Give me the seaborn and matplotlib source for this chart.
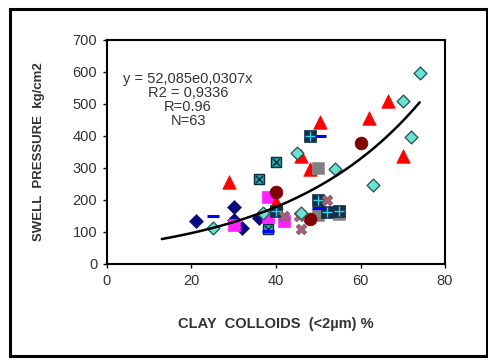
import numpy as np
import pandas as pd
import matplotlib
matplotlib.use("Agg")
import matplotlib.pyplot as plt
from matplotlib.patches import Rectangle
import seaborn as sns

# ---- data ----
navy_x = [21, 30, 30, 32, 36]
navy_y = [135, 178, 138, 112, 144]
mag_x = [30, 38, 38, 42]
mag_y = [123, 210, 146, 135]
red_x = [29, 40, 46, 48, 50.5, 62, 66.5, 70]
red_y = [256, 192, 336, 296, 444, 456, 508, 336]
xsq_x = [36, 40, 38]
xsq_y = [265, 320, 109]
psq_x = [48, 40, 50, 52, 55]
psq_y = [400, 165, 201, 161, 166]
dash_x = [25, 50.5, 50, 38]
dash_y = [149, 400, 174, 104]
circ_x = [40, 60, 48]
circ_y = [225, 378, 140]
mx_x = [42, 46, 52, 45.5]
mx_y = [150, 110, 200, 150]
gray_x = [50, 50, 55]
gray_y = [300, 154, 155]
dia_x = [25, 37, 45, 46, 54, 63, 70, 72, 74]
dia_y = [111, 159, 348, 159, 297, 248, 508, 398, 598]

fit_a = 52.085
fit_b = 0.0307
fit_range = [13, 74]

x_ticks = [0, 20, 40, 60, 80]
y_ticks = [0, 100, 200, 300, 400, 500, 600, 700]

sns.set_theme(style="white")
plt.rcParams['font.family'] = ['Liberation Sans', 'DejaVu Sans']

fig = plt.figure(figsize=(4.88, 3.6), dpi=100)
ax = fig.add_axes([0.219, 0.267, 0.693, 0.622])

def sc(x, y, **kw):
    sns.scatterplot(x=x, y=y, ax=ax, legend=False, **kw)

sc(navy_x, navy_y, marker="D", s=50, color="#0a0a80", edgecolor="#0a0a80", linewidth=0.5, zorder=3)
sc(mag_x, mag_y, marker="s", s=80, color="#ff22ff", edgecolor="#ff22ff", linewidth=0.5, zorder=3)
sc(red_x, red_y, marker="^", s=95, color="#ff0000", edgecolor="#ff0000", linewidth=0.5, zorder=3)
sc(xsq_x, xsq_y, marker="s", s=60, color="#2aa6a6", edgecolor="#0a2a40", linewidth=1.0, zorder=3)
sc(xsq_x, xsq_y, marker="x", s=28, color="#0a2a40", linewidth=1.0, zorder=4)
sc(gray_x, gray_y, marker="s", s=70, color="#808080", edgecolor="#909090", linewidth=0.5, zorder=3)
sc(psq_x, psq_y, marker="s", s=65, color="#12304a", edgecolor="#12304a", linewidth=0.5, zorder=4)
sc(psq_x, psq_y, marker="+", s=50, color="#30d0e0", linewidth=1.0, zorder=5)
sc(circ_x, circ_y, marker="o", s=85, color="#800000", edgecolor="#800000", linewidth=0.5, zorder=3)
sc(mx_x, mx_y, marker="X", s=60, color="#a0607a", edgecolor="#806060", linewidth=0.5, zorder=4)
sc(dash_x, dash_y, marker="_", s=75, color="#0000ff", linewidth=2.2, zorder=4)
sc(dia_x, dia_y, marker="D", s=42, color="#70e0d0", edgecolor="#206060", linewidth=1.0, zorder=4)

xf = np.linspace(fit_range[0], fit_range[1], 200)
sns.lineplot(x=xf, y=fit_a * np.exp(fit_b * xf), ax=ax, color="black", linewidth=1.8, zorder=6)

ax.set_xlim(0, 80)
ax.set_ylim(0, 700)
ax.set_xticks(x_ticks)
ax.set_yticks(y_ticks)
ax.tick_params(axis="both", direction="out", length=3, width=1, colors="black",
               labelsize=10.5, labelcolor="#333333", bottom=True, left=True, pad=4)
for s in ax.spines.values():
    s.set_color("black")
    s.set_linewidth(1.5)

ax.set_xlabel("CLAY  COLLOIDS  (<2µm) %", fontsize=10.5, fontweight="bold", color="#333333", labelpad=21)
ax.set_ylabel("SWELL  PRESSURE  kg/cm2", fontsize=9.5, fontweight="bold", color="#333333", labelpad=20)

ax.text(0.24, 0.855, "y = 52,085e0,0307x\nR2 = 0,9336\nR=0.96\nN=63", transform=ax.transAxes,
        ha="center", va="top", fontsize=10.5, color="#333333", linespacing=1.0)

fig.patches.append(Rectangle((10/488, 1 - 356/360), 477/488, 347/360, transform=fig.transFigure,
                             fill=False, edgecolor="black", linewidth=2.2))

fig.savefig("out.png", dpi=100)
